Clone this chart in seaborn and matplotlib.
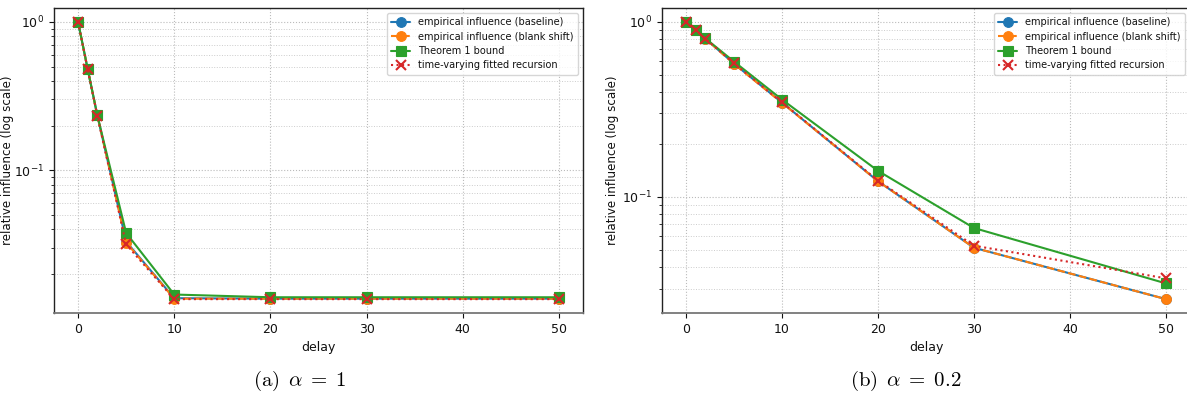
import numpy as np
import pandas as pd
import matplotlib
matplotlib.use("Agg")
import matplotlib.pyplot as plt
import seaborn as sns

delays = [0, 1, 2, 5, 10, 20, 30, 50]

a_baseline = [1.0, 0.481, 0.235, 0.033, 0.0137, 0.0136, 0.0136, 0.0136]
a_blank = [1.0, 0.481, 0.235, 0.0325, 0.0136, 0.0136, 0.0136, 0.0136]
a_bound = [1.0, 0.481, 0.235, 0.0377, 0.0145, 0.0139, 0.0139, 0.0139]
a_recur = [1.0, 0.479, 0.233, 0.0316, 0.0135, 0.0135, 0.0135, 0.0135]

b_baseline = [1.0, 0.896, 0.803, 0.577, 0.346, 0.123, 0.0513, 0.0261]
b_blank = [1.0, 0.896, 0.803, 0.575, 0.345, 0.123, 0.0513, 0.0261]
b_bound = [1.0, 0.896, 0.806, 0.593, 0.360, 0.141, 0.0665, 0.0321]
b_recur = [1.0, 0.896, 0.803, 0.580, 0.347, 0.124, 0.0527, 0.0343]

labels = ["empirical influence (baseline)", "empirical influence (blank shift)",
          "Theorem 1 bound", "time-varying fitted recursion"]
captions = [r"$\mathrm{(a)}\ \,\alpha\;=\;1$", r"$\mathrm{(b)}\ \,\alpha\;=\;0.2$"]

sns.set_style("white")
plt.rcParams["font.family"] = ["DejaVu Sans"]
plt.rcParams["mathtext.fontset"] = "cm"
for k in ["text.color", "axes.labelcolor", "xtick.color", "ytick.color"]:
    plt.rcParams[k] = "#111111"

colors = ["#1f77b4", "#ff7f0e", "#2ca02c", "#d62728"]
styles = [dict(linestyle="-", marker="o"), dict(linestyle="--", marker="o"),
          dict(linestyle="-", marker="s"), dict(linestyle=":", marker="x")]

fig = plt.figure(figsize=(11.87, 3.98), dpi=100)
ax1 = fig.add_axes([54 / 1187, 1 - 313 / 398, (583 - 54) / 1187, 305 / 398])
ax2 = fig.add_axes([662 / 1187, 1 - 313 / 398, (1190 - 662) / 1187, 305 / 398])

panels = [(ax1, [a_baseline, a_blank, a_bound, a_recur], -40),
          (ax2, [b_baseline, b_blank, b_bound, b_recur], -43)]

for ax, series, lab_off in panels:
    for vals, lab, col, st in zip(series, labels, colors, styles):
        df = pd.DataFrame({"delay": delays, "val": vals})
        sns.lineplot(data=df, x="delay", y="val", ax=ax, color=col, label=lab,
                     linestyle=st["linestyle"], marker=st["marker"],
                     markersize=7,
                     markeredgecolor=col, markeredgewidth=1.5 if st["marker"] == "x" else 0.8,
                     linewidth=1.5)
    ax.set_yscale("log")
    ax.set_xlabel("delay", fontsize=9)
    ax.set_ylabel("relative influence (log scale)", fontsize=8.6)
    ax.yaxis.set_label_coords(lab_off / 529, 0.5)
    ax.set_xticks([0, 10, 20, 30, 40, 50])
    ax.tick_params(axis="both", labelsize=9, length=3.5, width=0.8, left=True, bottom=True)
    ax.tick_params(axis="y", which="minor", length=2, width=0.6, left=True)
    ax.grid(True, which="major", linestyle=":", color="#bbbbbb", linewidth=0.8)
    ax.grid(True, which="minor", linestyle=":", color="#cccccc", linewidth=0.7)
    for s in ax.spines.values():
        s.set_color("#222222")
        s.set_linewidth(1.0)
    ax.spines["bottom"].set_color("#777777")
    ax.spines["bottom"].set_linewidth(1.3)
    ax.legend(loc="upper right", fontsize=7, frameon=True, framealpha=0.8,
              edgecolor="#cccccc", fancybox=True, borderpad=0.45, labelspacing=0.45,
              handlelength=2.0)

fig.text(300 / 1187, 1 - 381 / 398, captions[0], ha="center", va="center",
         fontsize=15, color="black")
fig.text(906 / 1187, 1 - 381 / 398, captions[1], ha="center", va="center",
         fontsize=15, color="black")

fig.savefig("out.png", dpi=100)
